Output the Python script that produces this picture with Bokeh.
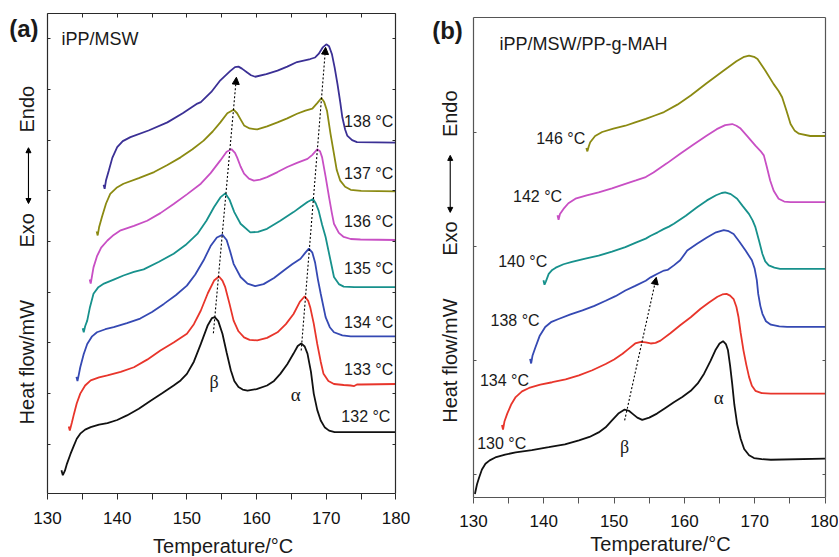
import math
from bokeh.plotting import figure
from bokeh.models import Range1d, LinearAxis, FixedTicker, Label, Arrow, NormalHead
from bokeh.layouts import row
from bokeh.embed import file_html
from bokeh.resources import INLINE

# ---------------- data (Temperature in degC, heat flow in arbitrary units) ----------------
# Panel (a) iPP/MSW
a132 = [(132.0,0.46),(132.2,0.36),(132.5,0.45),(132.8,0.59),(133.3,0.78),(133.8,0.95),(134.2,1.08),(134.7,1.18),(135.4,1.26),(136.2,1.31),(137.4,1.36),(138.6,1.39),(140.0,1.45),(141.4,1.54),(143.1,1.67),(144.8,1.83),(146.5,1.98),(148.1,2.13),(149.1,2.23),(150.0,2.36),(151.0,2.60),(152.0,2.95),(153.0,3.32),(153.6,3.46),(154.0,3.48),(154.5,3.40),(155.1,3.15),(155.7,2.78),(156.3,2.43),(156.8,2.22),(157.4,2.10),(158.0,2.05),(158.7,2.03),(160.0,2.06),(161.5,2.13),(162.5,2.22),(163.4,2.36),(164.4,2.55),(165.3,2.76),(165.9,2.91),(166.4,2.96),(166.9,2.90),(167.3,2.76),(167.8,2.40),(168.2,1.97),(168.7,1.65),(169.2,1.44),(169.8,1.30),(170.4,1.24),(171.2,1.21),(180.0,1.21)]
a133 = [(133.05,1.32),(133.2,1.24),(133.5,1.40),(133.8,1.57),(134.2,1.78),(134.7,1.97),(135.4,2.13),(136.2,2.23),(137.4,2.29),(138.6,2.33),(140.5,2.40),(142.4,2.49),(144.3,2.64),(146.2,2.82),(148.1,2.98),(150.0,3.15),(151.0,3.34),(152.0,3.61),(153.0,3.95),(153.9,4.20),(154.6,4.28),(155.1,4.20),(155.5,4.07),(156.1,3.75),(156.7,3.41),(157.4,3.20),(158.2,3.08),(159.0,3.03),(160.1,3.02),(161.5,3.07),(163.0,3.18),(164.2,3.34),(165.3,3.54),(166.2,3.78),(166.9,3.89),(167.4,3.80),(167.7,3.67),(168.2,3.35),(168.7,2.95),(169.2,2.60),(169.6,2.36),(170.3,2.22),(171.1,2.16),(172.5,2.14),(173.5,2.13),(174.0,2.12),(174.4,2.15),(175.0,2.15),(180.0,2.16)]
a134 = [(134.15,2.30),(134.3,2.22),(134.5,2.35),(134.7,2.49),(135.2,2.75),(135.7,2.95),(136.4,3.10),(137.1,3.18),(138.3,3.24),(139.5,3.28),(141.4,3.36),(143.3,3.45),(145.0,3.58),(146.7,3.74),(148.4,3.91),(150.0,4.10),(151.2,4.32),(152.4,4.60),(153.4,4.88),(154.3,5.05),(155.1,5.10),(155.7,5.00),(156.2,4.78),(156.7,4.53),(157.7,4.27),(158.7,4.14),(159.8,4.09),(161.0,4.13),(162.5,4.25),(163.9,4.40),(165.1,4.52),(166.3,4.63),(167.0,4.75),(167.5,4.83),(168.0,4.75),(168.4,4.55),(168.8,4.22),(169.2,3.94),(169.9,3.48),(170.5,3.28),(171.1,3.18),(172.3,3.12),(173.5,3.10),(180.0,3.10)]
a135 = [(135.05,3.26),(135.2,3.18),(135.4,3.30),(135.7,3.41),(136.1,3.68),(136.6,3.94),(137.3,4.07),(138.1,4.14),(139.5,4.22),(140.9,4.30),(142.4,4.37),(143.8,4.42),(146.0,4.57),(148.1,4.73),(149.8,4.90),(151.5,5.12),(152.8,5.38),(153.9,5.65),(154.8,5.84),(155.5,5.92),(156.1,5.80),(156.8,5.55),(157.7,5.32),(159.1,5.15),(160.2,5.16),(161.5,5.22),(163.4,5.38),(165.3,5.55),(166.4,5.66),(167.3,5.75),(168.1,5.81),(168.5,5.72),(168.9,5.58),(169.4,5.30),(169.9,5.06),(170.6,4.60),(171.1,4.27),(171.8,4.13),(172.5,4.08),(174.0,4.07),(180.0,4.07)]
a136 = [(136.05,4.22),(136.2,4.14),(136.4,4.30),(136.6,4.46),(137.1,4.68),(137.7,4.85),(138.6,4.99),(139.5,5.10),(140.5,5.19),(142.4,5.28),(144.3,5.38),(146.2,5.53),(148.1,5.71),(150.0,5.90),(152.0,6.11),(153.4,6.32),(154.8,6.57),(155.7,6.74),(156.4,6.79),(156.9,6.72),(157.2,6.63),(157.7,6.45),(158.2,6.31),(158.9,6.21),(159.6,6.17),(160.5,6.19),(161.5,6.24),(163.0,6.34),(164.4,6.44),(165.8,6.52),(167.3,6.60),(168.0,6.68),(168.7,6.79),(169.1,6.75),(169.4,6.63),(169.9,6.25),(170.4,5.84),(170.8,5.53),(171.1,5.32),(171.8,5.14),(172.5,5.06),(173.5,5.02),(174.9,5.01),(180.0,5.00)]
a137 = [(137.05,5.17),(137.2,5.09),(137.4,5.25),(137.8,5.45),(138.4,5.72),(139.0,5.91),(139.9,6.03),(140.9,6.11),(143.1,6.22),(145.3,6.34),(147.2,6.48),(149.1,6.63),(150.8,6.79),(152.4,6.96),(153.7,7.14),(154.8,7.32),(155.8,7.50),(156.7,7.57),(157.2,7.50),(157.7,7.38),(158.2,7.26),(159.0,7.20),(160.1,7.18),(161.5,7.24),(163.0,7.32),(164.4,7.40),(165.8,7.49),(167.0,7.55),(168.0,7.59),(168.7,7.70),(169.3,7.80),(169.7,7.72),(170.1,7.55),(170.6,7.10),(171.1,6.70),(171.5,6.38),(172.0,6.17),(172.7,6.05),(173.5,5.99),(175.0,5.97),(180.0,5.96)]
a138 = [(138.05,6.09),(138.2,6.01),(138.4,6.18),(138.8,6.37),(139.3,6.62),(140.0,6.83),(140.8,6.95),(141.9,7.03),(144.5,7.16),(147.2,7.32),(149.4,7.50),(151.5,7.69),(152.0,7.72),(153.5,7.92),(154.8,8.15),(156.2,8.33),(156.9,8.41),(157.4,8.42),(157.9,8.38),(158.6,8.31),(159.2,8.25),(159.8,8.22),(161.4,8.27),(163.0,8.34),(164.4,8.42),(165.8,8.51),(167.7,8.57),(168.4,8.60),(168.9,8.67),(169.5,8.80),(170.0,8.86),(170.4,8.82),(170.8,8.67),(171.2,8.40),(171.6,8.08),(172.0,7.72),(172.3,7.42),(172.7,7.18),(173.0,7.06),(173.7,6.97),(174.4,6.93),(180.0,6.92)]

# Panel (b) iPP/MSW/PP-g-MAH
b130 = [(130.2,-0.35),(130.5,-0.18),(130.8,-0.06),(131.2,0.08),(131.7,0.18),(132.3,0.24),(133.1,0.29),(134.5,0.34),(136.0,0.38),(138.3,0.42),(140.7,0.47),(143.0,0.52),(145.0,0.59),(146.5,0.65),(147.8,0.73),(148.8,0.82),(149.7,0.94),(150.6,1.06),(151.5,1.13),(152.1,1.11),(152.6,1.06),(153.3,0.99),(154.0,0.95),(155.0,0.99),(156.1,1.06),(157.3,1.16),(158.5,1.26),(159.7,1.35),(160.9,1.46),(161.9,1.59),(162.8,1.76),(163.7,1.98),(164.4,2.17),(165.0,2.29),(165.5,2.33),(165.9,2.28),(166.2,2.17),(166.5,1.90),(166.8,1.58),(167.1,1.22),(167.5,0.88),(168.0,0.62),(168.5,0.44),(169.2,0.33),(169.9,0.28),(171.0,0.26),(172.3,0.25),(180.0,0.27)]
b134 = [(134.05,0.86),(134.2,0.78),(134.4,0.92),(134.8,1.06),(135.4,1.23),(136.0,1.35),(136.9,1.45),(137.9,1.51),(139.5,1.57),(141.2,1.61),(143.1,1.66),(145.0,1.73),(146.9,1.82),(148.8,1.93),(150.0,2.01),(151.2,2.11),(152.1,2.20),(153.0,2.29),(153.8,2.32),(154.5,2.31),(155.2,2.29),(155.9,2.30),(156.6,2.34),(158.0,2.47),(159.4,2.61),(160.9,2.75),(162.3,2.90),(163.5,3.01),(164.7,3.11),(165.4,3.15),(166.0,3.16),(166.5,3.13),(167.0,3.07),(167.4,2.93),(167.7,2.75),(168.0,2.48),(168.4,2.17),(168.8,1.92),(169.2,1.70),(169.6,1.55),(170.1,1.46),(171.0,1.42),(172.3,1.41),(180.0,1.41)]
b138 = [(138.05,2.02),(138.2,1.94),(138.4,2.08),(138.8,2.22),(139.4,2.42),(140.2,2.58),(141.1,2.67),(142.1,2.72),(143.8,2.80),(145.5,2.87),(147.2,2.95),(148.8,3.04),(150.2,3.12),(151.6,3.22),(153.0,3.30),(154.5,3.39),(155.2,3.45),(156.1,3.51),(157.1,3.57),(157.6,3.58),(158.5,3.66),(159.4,3.75),(160.4,3.92),(161.8,4.04),(163.2,4.15),(164.5,4.24),(165.6,4.28),(166.3,4.26),(167.0,4.21),(167.8,4.08),(168.7,3.92),(169.6,3.75),(170.0,3.60),(170.3,3.40),(170.5,3.16),(170.8,2.95),(171.1,2.81),(171.6,2.68),(172.3,2.62),(173.5,2.59),(174.6,2.58),(180.0,2.58)]
b140 = [(139.95,3.40),(140.1,3.32),(140.3,3.38),(140.7,3.51),(141.2,3.58),(141.7,3.62),(142.8,3.68),(144.0,3.72),(145.9,3.78),(147.8,3.83),(149.7,3.90),(151.6,3.98),(153.1,4.06),(154.5,4.13),(155.2,4.18),(156.2,4.24),(157.1,4.30),(157.8,4.34),(158.5,4.39),(160.2,4.53),(161.8,4.68),(163.2,4.80),(164.5,4.89),(165.3,4.93),(165.8,4.94),(166.6,4.91),(167.5,4.83),(168.3,4.70),(169.2,4.56),(169.7,4.45),(170.1,4.33),(170.6,4.10),(171.1,3.86),(171.5,3.73),(172.0,3.66),(172.8,3.62),(173.6,3.60),(180.0,3.60)]
b142 = [(141.95,4.54),(142.1,4.46),(142.3,4.56),(142.8,4.65),(143.5,4.75),(144.5,4.83),(146.1,4.89),(147.8,4.94),(149.7,5.01),(151.6,5.09),(153.1,5.15),(154.5,5.21),(155.6,5.29),(157.5,5.45),(159.4,5.62),(161.3,5.78),(163.2,5.94),(164.6,6.05),(165.8,6.12),(166.8,6.14),(167.4,6.11),(168.0,6.06),(169.0,5.92),(170.1,5.76),(170.8,5.67),(171.3,5.59),(171.7,5.40),(172.2,5.15),(172.7,4.97),(173.4,4.83),(174.2,4.78),(175.1,4.77),(180.0,4.77)]
b146 = [(146.05,5.72),(146.2,5.66),(146.4,5.75),(146.6,5.82),(147.3,5.93),(148.3,6.00),(149.9,6.06),(151.6,6.11),(153.0,6.17),(154.5,6.23),(155.8,6.29),(157.1,6.35),(159.0,6.48),(160.9,6.64),(163.2,6.86),(165.6,7.08),(167.4,7.24),(168.5,7.32),(169.2,7.34),(169.9,7.32),(170.4,7.28),(171.5,7.08),(172.7,6.84),(173.4,6.72),(173.9,6.61),(174.5,6.38),(175.1,6.14),(175.7,6.02),(176.3,5.97),(177.9,5.93),(180.0,5.93)]

a_curves = [a132, a133, a134, a135, a136, a137, a138]
a_colors = ["#111111", "#e8352b", "#3549b3", "#17918c", "#c84fc4", "#8b8a12", "#3b3095"]
a_labels = ["132 °C", "133 °C", "134 °C", "135 °C", "136 °C", "137 °C", "138 °C"]
a_label_x = [179.2, 179.6, 179.6, 179.6, 179.6, 179.6, 179.6]
a_label_y = [1.52, 2.44, 3.38, 4.44, 5.37, 6.31, 7.34]

b_curves = [b130, b134, b138, b140, b142, b146]
b_colors = ["#111111", "#e8352b", "#3549b3", "#17918c", "#c84fc4", "#8b8a12"]
b_labels = ["130 °C", "134 °C", "138 °C", "140 °C", "142 °C", "146 °C"]
b_label_x = [137.5, 137.9, 139.4, 140.5, 142.6, 145.9]
b_label_y = [0.54, 1.64, 2.69, 3.73, 4.86, 5.88]

x_major = [130, 140, 150, 160, 170, 180]
x_minor = [135, 145, 155, 165, 175]
x_all = [130, 135, 140, 145, 150, 155, 160, 165, 170, 175, 180]
a_yticks = [0.97, 1.97, 2.97, 3.97, 4.97, 5.97, 6.97, 7.97, 8.97]
b_yticks = [0, 2, 4, 6]

# data box of each panel (x from 130 to 180; y bottom/top)
a_ybox = (0.0, 9.47)
b_ybox = (-0.407, 8.0)

SANS = "Liberation Sans"
SERIF = "Liberation Serif"


def quiet_axis(ax, color, tick_in):
    ax.major_tick_in = tick_in
    ax.major_tick_out = 0
    ax.minor_tick_line_color = None
    ax.axis_line_color = color
    ax.axis_line_width = 1.2
    ax.major_tick_line_color = color if tick_in > 0 else None
    ax.major_label_text_color = None
    ax.major_label_text_font_size = "8px"
    ax.major_label_standoff = 0
    ax.axis_label = None


def make_panel(width, height, xr, yr, ybox, yticks, color, top_ticks):
    p = figure(width=width, height=height, x_range=Range1d(*xr), y_range=Range1d(*yr),
               output_backend="svg", toolbar_location=None, tools="",
               min_border_left=0, min_border_right=0, min_border_top=0, min_border_bottom=0)
    p.grid.visible = False
    p.outline_line_color = None
    p.background_fill_color = "white"
    p.border_fill_color = "white"
    # bottom axis with labels
    xa = p.xaxis[0]
    xa.fixed_location = ybox[0]
    xa.bounds = (130, 180)
    xa.ticker = FixedTicker(ticks=x_major, minor_ticks=x_minor)
    xa.major_tick_in = 0
    xa.major_tick_out = 6
    xa.minor_tick_in = 0
    xa.minor_tick_out = 6
    xa.axis_line_color = color
    xa.axis_line_width = 1.2
    xa.major_tick_line_color = color
    xa.minor_tick_line_color = color
    xa.major_label_text_font = SANS
    xa.major_label_text_font_size = "17px"
    xa.major_label_text_color = "#111111"
    xa.major_label_standoff = 12
    # left axis (ticks only)
    ya = p.yaxis[0]
    ya.fixed_location = 130
    ya.bounds = ybox
    ya.ticker = FixedTicker(ticks=yticks, minor_ticks=[])
    quiet_axis(ya, color, 3)
    # right axis
    ra = LinearAxis(fixed_location=180, bounds=ybox, ticker=FixedTicker(ticks=yticks, minor_ticks=[]))
    quiet_axis(ra, color, 3)
    p.add_layout(ra, "right")
    # top axis
    ta = LinearAxis(fixed_location=ybox[1], bounds=(130, 180), ticker=FixedTicker(ticks=x_all, minor_ticks=[]))
    quiet_axis(ta, color, 4 if top_ticks else 0)
    p.add_layout(ta, "above")
    return p


def txt(p, x, y, s, size, align="center", font=SANS, style="normal", angle=0.0):
    p.add_layout(Label(x=x, y=y, text=s, text_font=font, text_font_size=size, text_align=align,
                       text_baseline="middle", text_color="#1a1a1a", text_font_style=style, angle=angle))


def dotted_arrow(p, x0, y0, x1, y1):
    p.add_layout(Arrow(end=NormalHead(size=7, fill_color="black", line_color="black"),
                       x_start=x0, y_start=y0, x_end=x1, y_end=y1,
                       line_dash="2 2", line_width=1.1, line_color="black"))


def double_arrow(p, x, y0, y1):
    p.add_layout(Arrow(start=NormalHead(size=5, fill_color="black", line_color="black"),
                       end=NormalHead(size=5, fill_color="black", line_color="black"),
                       x_start=x, y_start=y0, x_end=x, y_end=y1, line_width=1.1, line_color="black"))


# ---------------- panel (a) ----------------
pa = make_panel(428, 556, (123.257, 184.663), (-1.2426, 9.724), a_ybox, a_yticks, "#2a2a2a", True)
for c, col in zip(a_curves, a_colors):
    pa.line([t for t, _ in c], [v for _, v in c], line_color=col, line_width=1.8)
for s, x, y in zip(a_labels, a_label_x, a_label_y):
    txt(pa, x, y, s, "16px", align="right")
dotted_arrow(pa, 153.8, 3.16, 157.1, 8.21)
dotted_arrow(pa, 166.4, 2.82, 169.9, 8.80)
txt(pa, 153.9, 2.20, "β", "18px", font=SERIF)
txt(pa, 165.6, 1.95, "α", "19px", font=SERIF)
txt(pa, 132.0, 8.97, "iPP/MSW", "18px", align="left")
txt(pa, 126.6, 9.17, "(a)", "24px", style="bold")
txt(pa, 155.2, -1.03, "Temperature/°C", "20px")
txt(pa, 127.13, 2.59, "Heat flow/mW", "20px", angle=math.pi / 2)
txt(pa, 127.13, 5.19, "Exo", "20px", angle=math.pi / 2)
txt(pa, 127.13, 7.58, "Endo", "20px", angle=math.pi / 2)
double_arrow(pa, 127.27, 5.72, 6.82)

# ---------------- panel (b) ----------------
pb = make_panel(410, 556, (123.599, 181.92), (-1.447, 8.307), b_ybox, b_yticks, "#555555", False)
for c, col in zip(b_curves, b_colors):
    pb.line([t for t, _ in c], [v for _, v in c], line_color=col, line_width=1.8)
for s, x, y in zip(b_labels, b_label_x, b_label_y):
    txt(pb, x, y, s, "16px", align="right")
dotted_arrow(pb, 151.5, 0.94, 156.0, 3.45)
txt(pb, 151.5, 0.47, "β", "18px", font=SERIF)
txt(pb, 164.9, 1.35, "α", "19px", font=SERIF)
txt(pb, 133.7, 7.55, "iPP/MSW/PP-g-MAH", "18px", align="left")
txt(pb, 126.3, 7.78, "(b)", "24px", style="bold")
txt(pb, 156.6, -1.22, "Temperature/°C", "20px")
txt(pb, 126.69, 1.99, "Heat flow/mW", "20px", angle=math.pi / 2)
txt(pb, 126.69, 4.13, "Exo", "20px", angle=math.pi / 2)
txt(pb, 126.69, 6.32, "Endo", "20px", angle=math.pi / 2)
double_arrow(pb, 126.69, 4.59, 5.59)

layout = row(pa, pb)
open("out.html", "w").write(file_html(layout, INLINE))
